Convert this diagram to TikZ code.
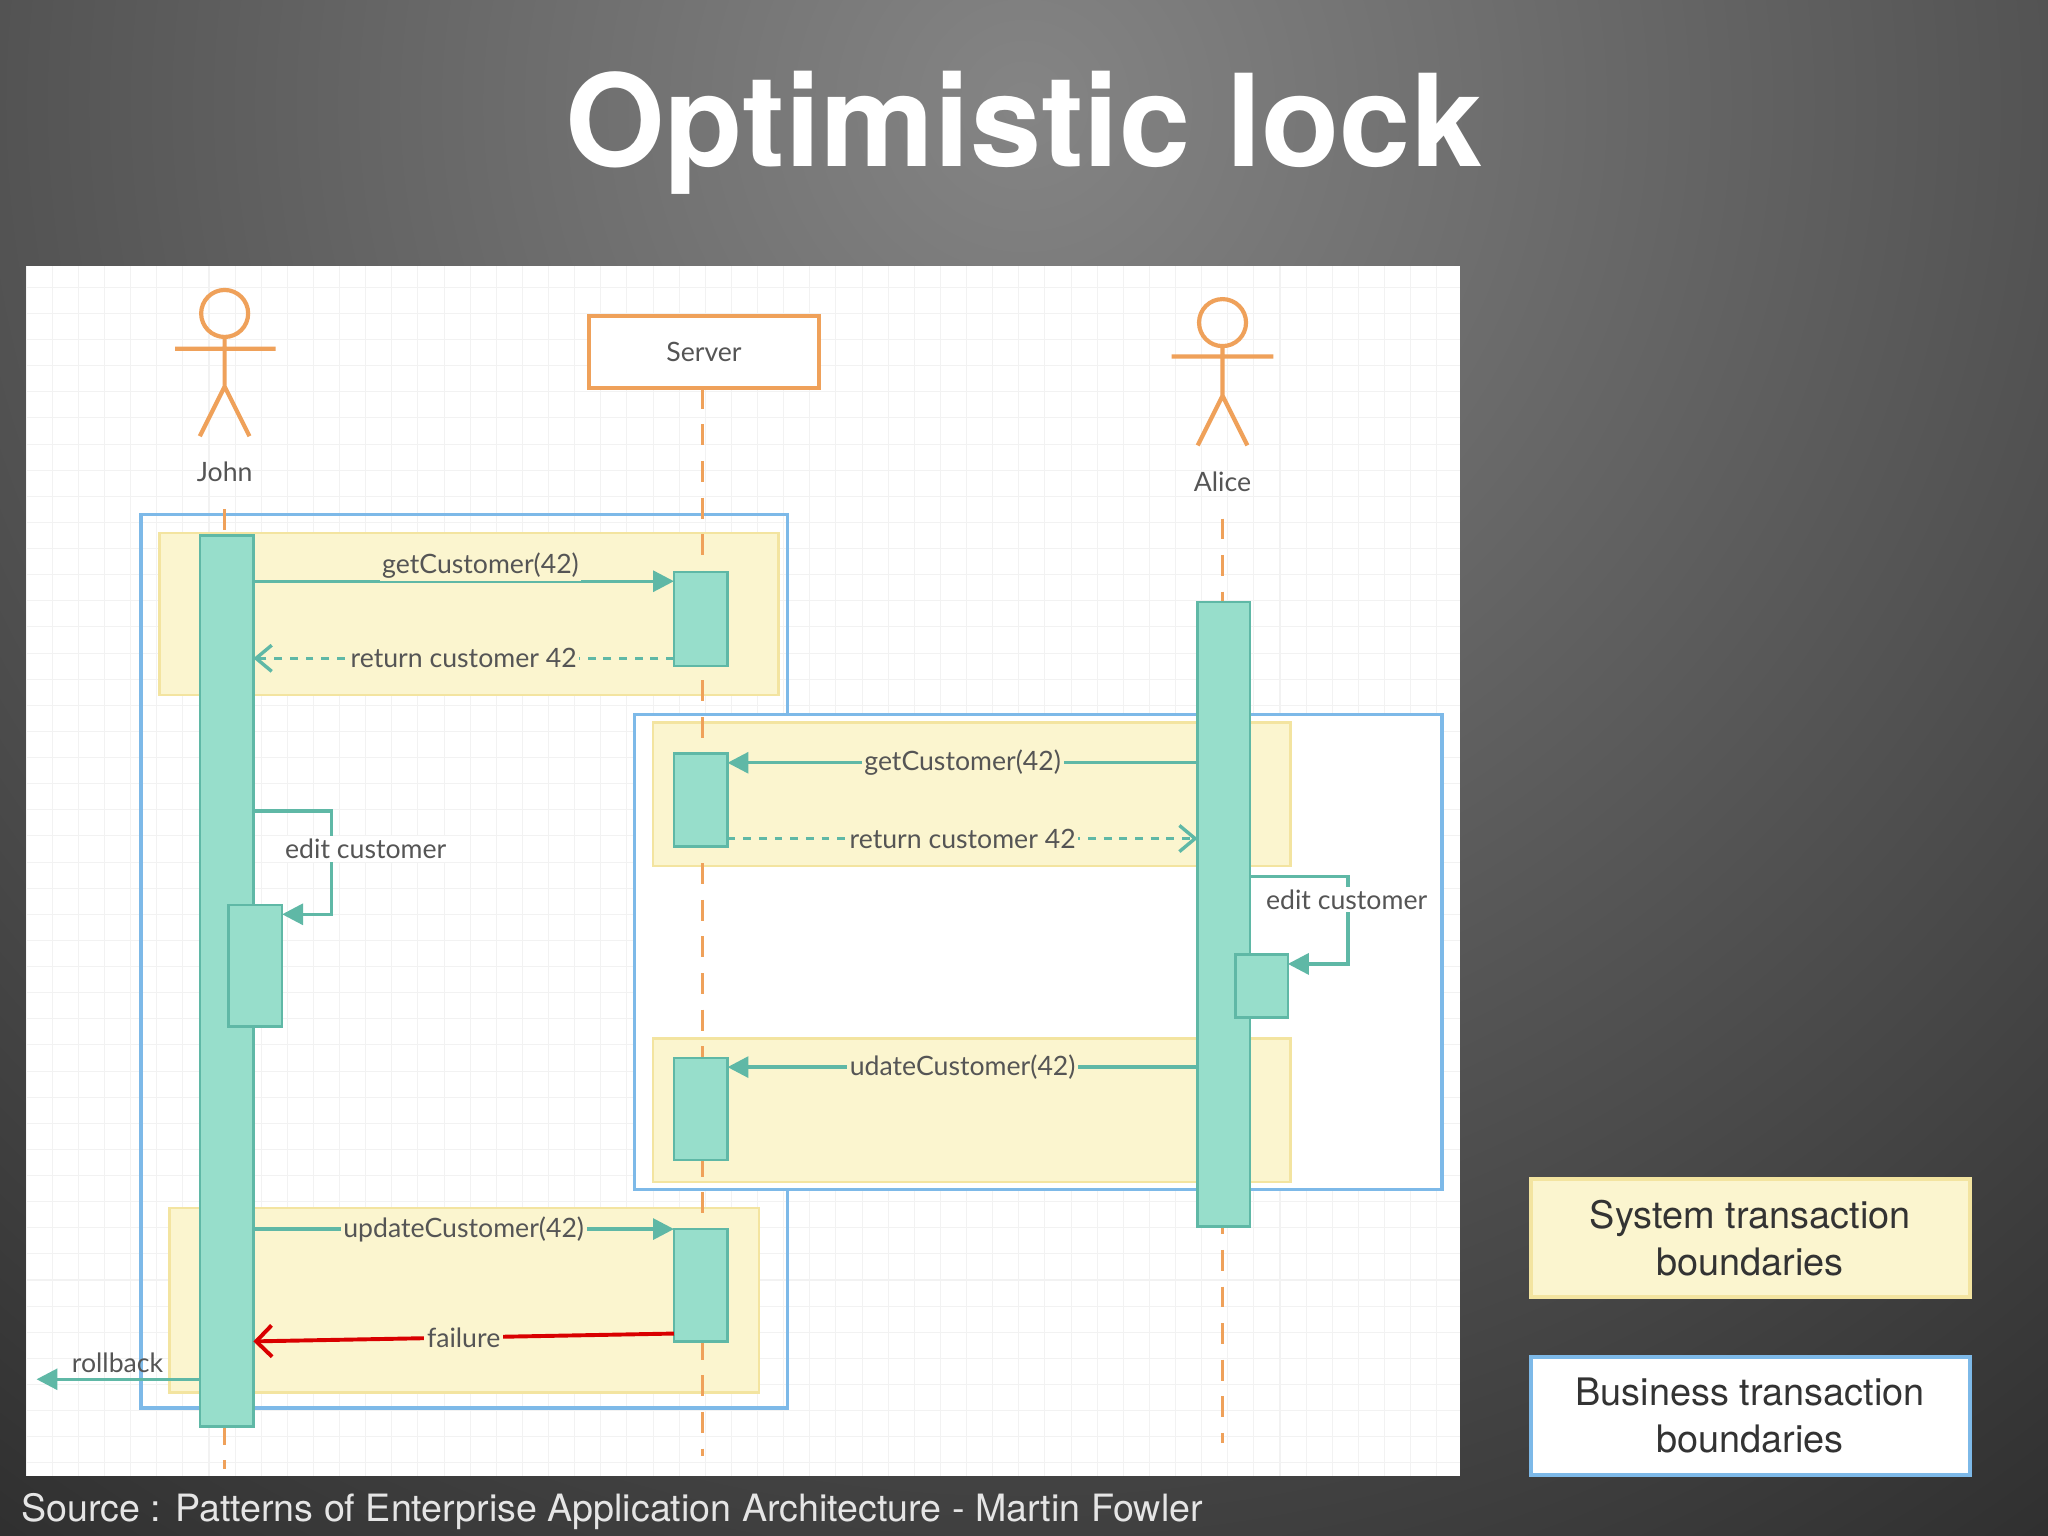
\documentclass[tikz,border=0pt]{standalone}
\usepackage{fontspec}
\setmainfont{Lato}
\newfontfamily\titlefont{TeX Gyre Heros}
\usetikzlibrary{arrows.meta}
\definecolor{tealA}{HTML}{97DECB}
\definecolor{tealL}{HTML}{5FB8A6}
\definecolor{orng}{HTML}{EFA15A}
\definecolor{ylw}{HTML}{FBF5CF}
\definecolor{ylwB}{HTML}{F3E4A0}
\definecolor{blu}{HTML}{7DB9E8}
\definecolor{txt}{HTML}{555555}
\tikzset{
 act/.style={fill=tealA,draw=tealL,line width=1pt},
 life/.style={orng,dashed,line width=1.3pt,dash pattern=on 8pt off 6pt},
 actor/.style={orng,line width=1.6pt},
 sysb/.style={fill=ylw,draw=ylwB,line width=1pt},
 busb/.style={draw=blu,line width=1.2pt},
 msg/.style={tealL,line width=1.3pt,-{Triangle[length=8pt,width=8pt]}},
 ret/.style={tealL,line width=1.3pt,dashed,-{Straight Barb[length=6pt,width=10pt]}},
 lbl/.style={font=\fontsize{10.2pt}{12pt}\selectfont,text=txt,inner sep=1pt},
 legend/.style={line width=1.5pt,minimum width=168pt,minimum height=45pt,align=center,text=black!80,font=\fontsize{14.5pt}{18pt}\selectfont\titlefont},
}
\begin{document}
\begin{tikzpicture}[x=0.5pt,y=-0.5pt]
\useasboundingbox (0,0) rectangle (1568,1176);
\begin{scope}
\clip (0,0) rectangle (1568,1176);
\shade[inner color=black!48,outer color=black!90] (784,80) circle (1700);
\end{scope}
\node[text=white,font=\titlefont\bfseries\fontsize{49pt}{52pt}\selectfont] (title) at (784,102) {Optimistic lock};
% panel
\fill[white] (20,204) rectangle (1118,1130);
\draw[black!5,step=10pt] (20,204) grid (1118,1130);
% boundaries
\draw[busb] (108,394) rectangle (603,1078);
\fill[white] (486,547) rectangle (1104,911);
\draw[busb] (486,547) rectangle (1104,911);
\draw[sysb] (122,408) rectangle (596,532);
\draw[sysb] (500,553) rectangle (988,663);
\draw[sysb] (500,795) rectangle (988,905);
\draw[sysb] (130,925) rectangle (581,1066);
% actors
\draw[actor] (172,240) circle (18);
\draw[actor] (172,258) -- (172,296) (134,267) -- (211,267) (153,334) -- (172,296) -- (191,334);
\node[lbl] (john) at (172,361) {John};
\draw[actor] (936,247) circle (18);
\draw[actor] (936,265) -- (936,303) (897,273) -- (975,273) (917,341) -- (936,303) -- (955,341);
\node[lbl] (alice) at (936,369) {Alice};
\node[draw=orng,line width=1.6pt,minimum width=88pt,minimum height=27.5pt,lbl,fill=white] (server) at (539,269.5) {Server};
% lifelines
\draw[life] (172,390) -- (172,1125);
\draw[life] (538,297) -- (538,1115);
\draw[life] (936,397) -- (936,1105);
% activations
\draw[act] (153,410) rectangle (194,1092);
\draw[act] (175,693) rectangle (216,786);
\draw[act] (516,438) rectangle (557,510);
\draw[act] (516,577) rectangle (557,648);
\draw[act] (516,810) rectangle (557,888);
\draw[act] (516,941) rectangle (557,1027);
\draw[act] (917,461) rectangle (957,939);
\draw[act] (946,731) rectangle (986,779);
% messages
\draw[msg] (194,445) -- node[lbl,fill=ylw,pos=0.54,yshift=6pt]{getCustomer(42)} (516,445);
\draw[ret] (516,504) -- node[lbl,fill=ylw,pos=0.5]{return customer 42} (194,504);
\draw[msg] (917,584) -- node[lbl,fill=ylw,pos=0.5]{getCustomer(42)} (557,584);
\draw[ret] (557,642) -- node[lbl,fill=ylw,pos=0.5]{return customer 42} (917,642);
\draw[msg] (194,621) -- (254,621) -- (254,700) -- (216,700);
\node[lbl,fill=white] (ec1) at (280,650) {edit customer};
\draw[msg] (957,671) -- (1032,671) -- (1032,738) -- (986,738);
\node[lbl,fill=white] (ec2) at (1031,689) {edit customer};
\draw[msg] (917,817) -- node[lbl,fill=ylw,pos=0.5]{udateCustomer(42)} (557,817);
\draw[msg] (194,941) -- node[lbl,fill=ylw,pos=0.5]{updateCustomer(42)} (516,941);
\draw[red!85!black,line width=1.5pt,-{Straight Barb[length=6pt,width=12pt]}] (516,1021) -- node[lbl,fill=ylw,pos=0.5]{failure} (194,1027);
\draw[msg] (153,1056) -- (28,1056);
\node[lbl] (rb) at (90,1043) {rollback};
% legend
\node[legend,draw=ylwB,fill=ylw] (leg1) at (1340,948) {System transaction\\boundaries};
\node[legend,draw=blu,fill=white] (leg2) at (1340,1084) {Business transaction\\boundaries};
\node[anchor=west,text=white!90!black,font=\titlefont\fontsize{14.4pt}{16pt}\selectfont,inner sep=0] (src) at (16,1157) {Source : Patterns of Enterprise Application Architecture - Martin Fowler};
\end{tikzpicture}
\end{document}
